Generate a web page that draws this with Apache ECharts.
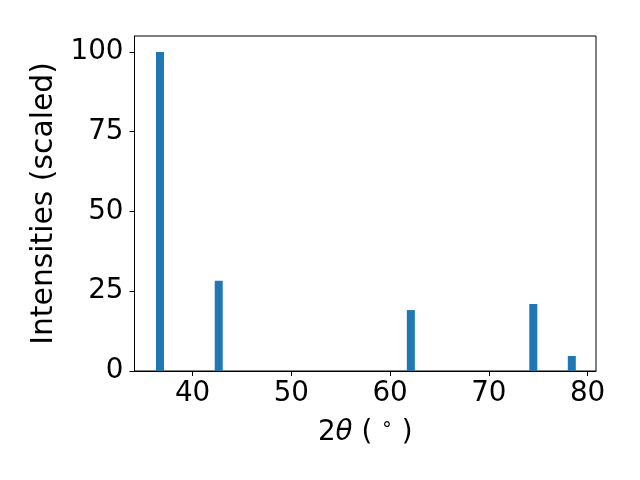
<!DOCTYPE html>
<html>
<head>
<meta charset="utf-8">
<script src="https://cdn.jsdelivr.net/npm/echarts@6/dist/echarts.min.js"></script>
<style>
html,body{margin:0;padding:0;background:#fff;}
#chart{width:640px;height:480px;}
</style>
</head>
<body>
<div id="chart"></div>
<script>
const peakPositions = [36.7, 42.65, 62.1, 74.5, 78.4];
const peakIntensities = [100, 28.3, 19.1, 21.0, 4.7];
const xTickValues = [40, 50, 60, 70, 80];
const yTickValues = [0, 25, 50, 75, 100];

const chart = echarts.init(document.getElementById('chart'), null, {renderer: 'canvas'});
const font = 'DejaVu Sans';
const fs = 27.78;
chart.setOption({
  animation: false,
  backgroundColor: '#ffffff',
  grid: {left: 134.5, right: 44, top: 36, bottom: 109, show: true, borderColor: '#000', borderWidth: 1, backgroundColor: 'transparent'},
  xAxis: {
    type: 'value', min: 34.12, max: 80.85,
    axisLine: {show: true, onZero: false, lineStyle: {color: '#000', width: 1}},
    axisTick: {show: true, length: 5, customValues: xTickValues, lineStyle: {color: '#000', width: 1}},
    axisLabel: {customValues: xTickValues, color: '#000', fontFamily: font, fontSize: fs, margin: 9},
    splitLine: {show: false},
    name: '{n|2}{it|θ}{n| ( }{sup|∘}{n| )}',
    nameLocation: 'middle', nameGap: 45,
    nameTextStyle: {
      rich: {
        n: {fontFamily: font, fontSize: fs, color: '#000'},
        it: {fontFamily: font, fontSize: fs, fontStyle: 'italic', color: '#000'},
        sup: {fontFamily: font, fontSize: 19, color: '#000', padding: [0, 0, 14, 0]}
      }
    }
  },
  yAxis: {
    type: 'value', min: 0, max: 105,
    axisLine: {show: true, lineStyle: {color: '#000', width: 1}},
    axisTick: {show: true, length: 5, customValues: yTickValues, lineStyle: {color: '#000', width: 1}},
    axisLabel: {customValues: yTickValues, color: '#000', fontFamily: font, fontSize: fs, margin: 11},
    splitLine: {show: false},
    name: 'Intensities (scaled)',
    nameLocation: 'middle', nameGap: 74,
    nameTextStyle: {fontFamily: font, fontSize: 29.8, color: '#000'}
  },
  series: [{
    type: 'bar',
    barWidth: 8,
    itemStyle: {color: '#1f77b4'},
    data: peakPositions.map((p, i) => [p, peakIntensities[i]])
  }]
});
</script>
</body>
</html>
